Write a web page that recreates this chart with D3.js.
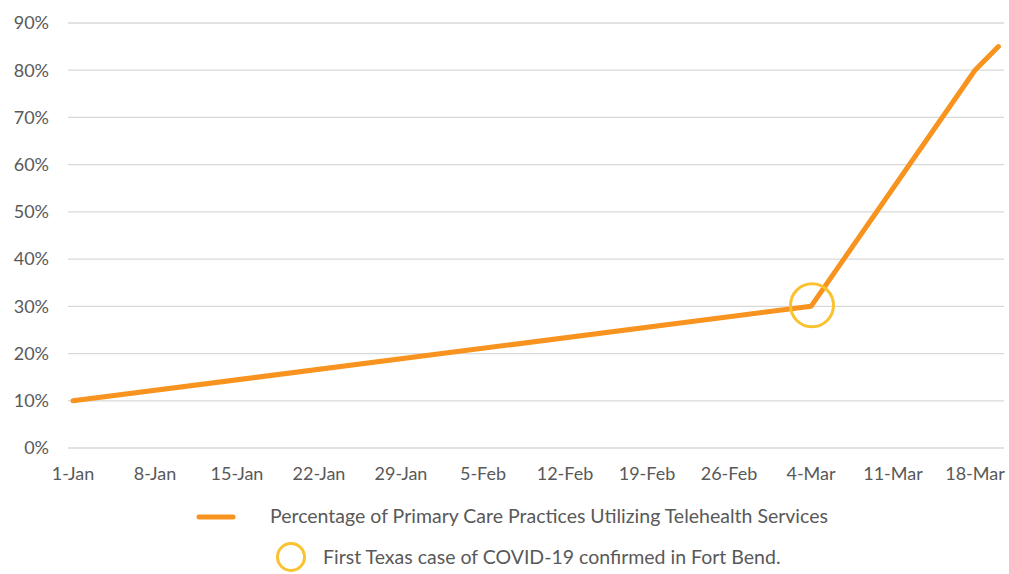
<!DOCTYPE html>
<html>
<head>
<meta charset="utf-8">
<script src="https://cdn.jsdelivr.net/npm/d3@7"></script>
<style>
  body { margin: 0; background: #fff; }
  svg text { font-family: Lato, "Open Sans", sans-serif; fill: #595959; }
</style>
</head>
<body>
<svg width="1009" height="574"></svg>
<script>
// data
const dates = ["2020-01-01", "2020-03-04", "2020-03-18", "2020-03-20"];
const values = [0.10, 0.30, 0.80, 0.85];
const markerDate = "2020-03-04";
const markerValue = 0.30;
const yTicks = [0, 0.1, 0.2, 0.3, 0.4, 0.5, 0.6, 0.7, 0.8, 0.9];
const lineLabel = "Percentage of Primary Care Practices Utilizing Telehealth Services";
const markerLabel = "First Texas case of COVID-19 confirmed in Fort Bend.";

const parse = d3.timeParse("%Y-%m-%d");
const data = dates.map((d, i) => ({ date: parse(d), value: values[i] }));

const orange = "#F7931E";
const yellow = "#F9C22E";

const svg = d3.select("svg");

const x = d3.scaleTime()
  .domain([parse("2020-01-01"), parse("2020-03-18")])
  .range([73, 975]);
const y = d3.scaleLinear().domain([0, 0.9]).range([448, 23]);

// gridlines
svg.append("g")
  .selectAll("line")
  .data(yTicks)
  .join("line")
  .attr("x1", 68).attr("x2", 1004)
  .attr("y1", d => y(d)).attr("y2", d => y(d))
  .attr("stroke", "#d9d9d9")
  .attr("stroke-width", 1.3);

// y labels
svg.append("g")
  .selectAll("text")
  .data(yTicks)
  .join("text")
  .attr("x", 49)
  .attr("y", d => y(d))
  .attr("dy", "0.35em")
  .attr("text-anchor", "end")
  .style("font-size", "18px")
  .text(d3.format(".0%"));

// x labels, every 7 days from 1-Jan
const xTicks = d3.timeDay.range(parse("2020-01-01"), parse("2020-03-19"), 7);
svg.append("g")
  .selectAll("text")
  .data(xTicks)
  .join("text")
  .attr("x", d => x(d))
  .attr("y", 474)
  .attr("dy", "0.35em")
  .attr("text-anchor", "middle")
  .style("font-size", "18px")
  .text(d3.timeFormat("%-d-%b"));

// line
const line = d3.line().x(d => x(d.date)).y(d => y(d.value));
svg.append("path")
  .datum(data)
  .attr("d", line)
  .attr("fill", "none")
  .attr("stroke", orange)
  .attr("stroke-width", 5)
  .attr("stroke-linecap", "round")
  .attr("stroke-linejoin", "round");

// marker circle
svg.append("circle")
  .attr("cx", x(parse(markerDate)) + 1)
  .attr("cy", y(markerValue) - 1)
  .attr("r", 21.5)
  .attr("fill", "none")
  .attr("stroke", yellow)
  .attr("stroke-width", 3);

// legend
const legend = svg.append("g");
legend.append("line")
  .attr("x1", 199).attr("x2", 233)
  .attr("y1", 517).attr("y2", 517)
  .attr("stroke", orange)
  .attr("stroke-width", 5)
  .attr("stroke-linecap", "round");
legend.append("text")
  .attr("x", 270).attr("y", 516)
  .attr("dy", "0.35em")
  .style("font-size", "19.5px")
  .text(lineLabel);
legend.append("circle")
  .attr("cx", 291).attr("cy", 557)
  .attr("r", 13.5)
  .attr("fill", "none")
  .attr("stroke", yellow)
  .attr("stroke-width", 3);
legend.append("text")
  .attr("x", 323).attr("y", 557)
  .attr("dy", "0.35em")
  .style("font-size", "19.5px")
  .text(markerLabel);
</script>
</body>
</html>
